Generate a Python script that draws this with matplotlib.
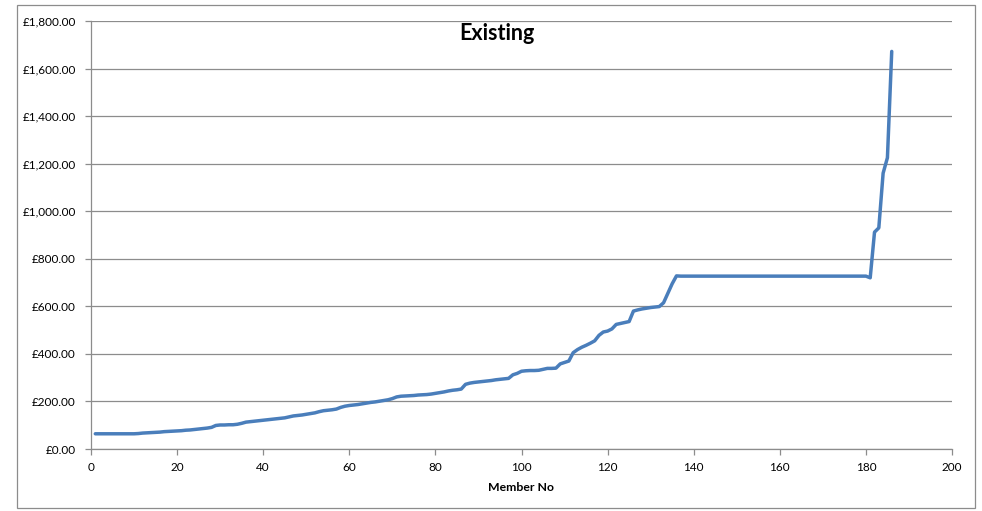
import matplotlib.pyplot as plt
from matplotlib.ticker import FuncFormatter, MultipleLocator
from matplotlib.patches import Rectangle

# cost per member, sorted ascending
member_cost = [
    64, 64, 64, 64, 64, 64, 64, 64, 64, 64,
    65, 67, 68, 69, 70, 71, 73, 74, 75, 76,
    77, 79, 80, 82, 84, 86, 88, 91, 99, 101,
    101, 102, 102, 104, 108, 113, 115, 117, 119, 121,
    123, 125, 127, 129, 131, 135, 139, 141, 143, 146,
    149, 152, 157, 161, 163, 165, 168, 175, 180, 183,
    185, 187, 190, 193, 196, 198, 201, 204, 207, 212,
    219, 222, 223, 224, 225, 227, 228, 229, 231, 234,
    237, 240, 244, 247, 249, 252, 272, 277, 280, 282,
    284, 286, 288, 291, 293, 295, 297, 312, 318, 327,
    329, 330, 330, 331, 335, 339, 339, 340, 358, 364,
    370, 405, 418, 428, 436, 445, 455, 478, 492, 496,
    505, 524, 528, 532, 536, 580, 585, 589, 592, 595,
    597, 599, 615, 655, 695, 728, 727, 727, 727, 727,
    727, 727, 727, 727, 727, 727, 727, 727, 727, 727,
    727, 727, 727, 727, 727, 727, 727, 727, 727, 727,
    727, 727, 727, 727, 727, 727, 727, 727, 727, 727,
    727, 727, 727, 727, 727, 727, 727, 727, 727, 727,
    720, 912, 930, 1160, 1225, 1672,
]
member_no = list(range(1, len(member_cost) + 1))

plt.rcParams['font.family'] = ['Lato', 'DejaVu Sans']

fig = plt.figure(figsize=(9.82, 5.11), dpi=100)
ax = fig.add_axes([91 / 982, 62 / 511, 861 / 982, 428 / 511])

ax.plot(member_no, member_cost, color='#4a7ebb', linewidth=2.5,
        solid_joinstyle='round', solid_capstyle='round')

ax.set_xlim(0, 200)
ax.set_ylim(0, 1800)
ax.xaxis.set_major_locator(MultipleLocator(20))
ax.yaxis.set_major_locator(MultipleLocator(200))
ax.yaxis.set_major_formatter(FuncFormatter(lambda v, p: f'£{v:,.2f}'))

ax.grid(axis='y', color='#8c8c8c', linewidth=0.9)
ax.set_axisbelow(True)
for s in ['top', 'right']:
    ax.spines[s].set_visible(False)
for s in ['left', 'bottom']:
    ax.spines[s].set_color('#8c8c8c')
    ax.spines[s].set_linewidth(0.9)
ax.tick_params(axis='both', colors='#8c8c8c', labelcolor='black',
               labelsize=8.5, length=4, width=0.9, direction='out')
ax.tick_params(axis='y', pad=7)
ax.tick_params(axis='x', pad=5)

ax.set_xlabel('Member No', fontsize=8.8, fontweight='bold', labelpad=7)
fig.text(497 / 982, 1 - 33 / 511, 'Existing', fontsize=15.5, fontweight='bold',
         ha='center', va='center')

# chart area border
fig.add_artist(Rectangle((17 / 982, 3 / 511), 958 / 982, 503 / 511,
                         transform=fig.transFigure, fill=False,
                         edgecolor='#8c8c8c', linewidth=0.9))

plt.savefig('out.png', dpi=100)
